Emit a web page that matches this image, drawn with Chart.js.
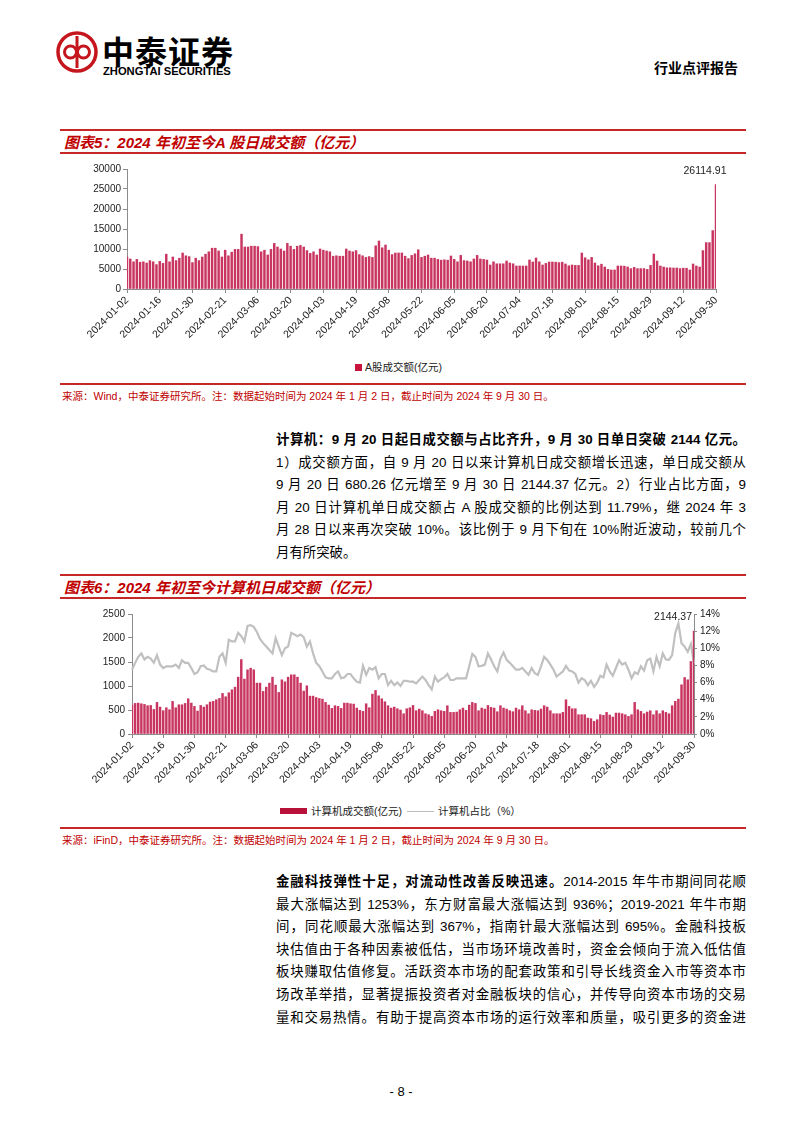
<!DOCTYPE html>
<html>
<head>
<meta charset="utf-8">
<script src="https://cdn.jsdelivr.net/npm/chart.js@4.4.1/dist/chart.umd.min.js"></script>
<style>
body{margin:0;background:#fff;width:802px;height:1133px;position:relative;overflow:hidden;font-family:"Liberation Sans","Noto Sans CJK SC",sans-serif;color:#000}
.abs{position:absolute}
.rule{position:absolute;left:60px;width:686px;background:#c62828}
.title{position:absolute;left:64px;font-style:italic;font-weight:bold;font-size:15px;color:#c00000;font-family:"Liberation Sans","Noto Sans CJK SC";white-space:nowrap}
.src{position:absolute;left:62px;font-size:10.5px;color:#c00000;white-space:nowrap;font-family:"Liberation Sans","Noto Sans CJK SC"}
.para{position:absolute;left:276px;width:470px;font-size:13.4px;line-height:22.6px;font-family:"Liberation Sans","Noto Sans CJK SC"}
.para div{text-align:justify;text-align-last:justify}
.legend{position:absolute;font-size:10.5px;white-space:nowrap;font-family:"Liberation Sans","Noto Sans CJK SC";color:#222}
canvas{position:absolute}
</style>
</head>
<body>

<svg class="abs" style="left:55px;top:30px" width="46" height="46">
  <circle cx="22" cy="22" r="19" fill="none" stroke="#c4161c" stroke-width="3.5"/>
  <circle cx="15.5" cy="22" r="6" fill="none" stroke="#c4161c" stroke-width="3"/>
  <circle cx="28.5" cy="22" r="6" fill="none" stroke="#c4161c" stroke-width="3"/>
  <line x1="22" y1="6" x2="22" y2="38" stroke="#c4161c" stroke-width="3"/>
</svg>
<div class="abs" style="left:102px;top:27px;font-size:32px;font-weight:bold;font-family:'Noto Sans CJK SC';letter-spacing:1px">中泰证券</div>
<div class="abs" style="left:103px;top:65px;font-size:11.2px;font-weight:bold;font-family:'Liberation Sans'">ZHONGTAI SECURITIES</div>
<div class="abs" style="left:654px;top:57px;font-size:14px;font-weight:bold;font-family:'Noto Sans CJK SC'">行业点评报告</div>

<div class="rule" style="top:129px;height:2px"></div>
<div class="title" style="top:131px">图表5：2024 年初至今A 股日成交额（亿元）</div>
<div class="rule" style="top:152px;height:2px"></div>

<canvas id="c1" width="690" height="192" style="left:60px;top:158px"></canvas>

<div class="legend" style="left:355px;top:359px"><span style="display:inline-block;width:7px;height:7px;background:#c8143c;margin-right:3px"></span>A股成交额(亿元)</div>
<div class="rule" style="top:383px;height:1.5px"></div>
<div class="src" style="top:388px">来源：Wind，中泰证券研究所。注：数据起始时间为 2024 年 1 月 2 日，截止时间为 2024 年 9 月 30 日。</div>

<div class="para" style="top:429px">
<div><b>计算机：9 月 20 日起日成交额与占比齐升，9 月 30 日单日突破 2144 亿元。</b></div>
<div>1）成交额方面，自 9 月 20 日以来计算机日成交额增长迅速，单日成交额从</div>
<div>9 月 20 日 680.26 亿元增至 9 月 30 日 2144.37 亿元。2）行业占比方面，9</div>
<div>月 20 日计算机单日成交额占 A 股成交额的比例达到 11.79%，继 2024 年 3</div>
<div>月 28 日以来再次突破 10%。该比例于 9 月下旬在 10%附近波动，较前几个</div>
<div style="text-align-last:left">月有所突破。</div>
</div>

<div class="rule" style="top:574px;height:2px"></div>
<div class="title" style="top:576px">图表6：2024 年初至今计算机日成交额（亿元）</div>
<div class="rule" style="top:597px;height:2px"></div>

<canvas id="c2" width="690" height="197" style="left:60px;top:603px"></canvas>

<div class="legend" style="left:280px;top:803px">
  <span style="display:inline-block;width:27px;height:6px;background:#b8123a;vertical-align:1px;margin-right:4px"></span>计算机成交额(亿元)
  <span style="display:inline-block;width:27px;height:1.5px;background:#bdbdbd;vertical-align:3px;margin:0 4px 0 2px"></span>计算机占比（%）
</div>
<div class="rule" style="top:827px;height:1.5px"></div>
<div class="src" style="top:832px">来源：iFinD，中泰证券研究所。注：数据起始时间为 2024 年 1 月 2 日，截止时间为 2024 年 9 月 30 日。</div>

<div class="para" style="top:871px">
<div><b>金融科技弹性十足，对流动性改善反映迅速。</b>2014-2015 年牛市期间同花顺</div>
<div>最大涨幅达到 1253%，东方财富最大涨幅达到 936%；2019-2021 年牛市期</div>
<div>间，同花顺最大涨幅达到 367%，指南针最大涨幅达到 695%。金融科技板</div>
<div>块估值由于各种因素被低估，当市场环境改善时，资金会倾向于流入低估值</div>
<div>板块赚取估值修复。活跃资本市场的配套政策和引导长线资金入市等资本市</div>
<div>场改革举措，显著提振投资者对金融板块的信心，并传导向资本市场的交易</div>
<div>量和交易热情。有助于提高资本市场的运行效率和质量，吸引更多的资金进</div>
</div>

<div class="abs" style="left:0;width:802px;top:1084px;text-align:center;font-size:13px">- 8 -</div>

<script>
// closed weekdays of the Shanghai / Shenzhen exchanges, Jan - Sep 2024
const holidays = ["2024-01-01","2024-02-09","2024-02-12","2024-02-13","2024-02-14","2024-02-15","2024-02-16",
    "2024-04-04","2024-04-05","2024-05-01","2024-05-02","2024-05-03","2024-06-10","2024-09-16","2024-09-17"]

// A-share daily turnover, 100 million yuan
const aShareTurnover = [
    8000,7500,6800,7400,6700,6800,6500,7100,6800,6100,
    6900,6400,8700,6800,8000,7100,7700,9000,8300,8100,
    6600,7700,7100,8000,8700,9300,10200,10200,9500,8000,
    9700,8300,9200,9900,9900,13700,10500,10500,10700,10700,
    10600,9300,9700,8500,9900,11400,10500,10000,9500,11400,
    10700,9900,10700,10900,10500,9600,8900,9300,8500,10000,
    9700,9500,9300,8200,8300,8200,8200,10000,9500,9300,
    9600,8600,8300,7900,8100,7900,10800,12000,10300,11000,
    9700,8600,9000,9000,9000,8200,7600,8400,8800,9800,
    7900,8200,8500,7700,7700,7400,7200,7300,7200,8250,
    7400,6800,8400,7100,7000,6800,7500,8400,7500,7400,
    7250,6000,6800,6300,6300,6300,7000,6500,6300,5750,
    5750,5750,5750,7250,6750,7750,6800,6000,6400,6750,
    6750,6700,6600,6700,6250,5800,6000,5900,5900,9000,
    7800,7300,7900,6500,5800,6200,5500,4900,4750,4750,
    5750,5750,5700,5500,5100,5400,5100,5100,5100,4900,
    5900,8750,7000,5750,5500,5300,5300,5250,5250,5100,
    5200,5200,4750,6250,5750,5500,9600,11600,11600,14600,
    26114.91
]

// computer sector daily turnover, 100 million yuan
const computerTurnover = [
    602,637,644,630,616,589,595,512,658,561,
    485,547,505,679,547,609,609,637,734,644,
    575,478,595,561,609,665,679,713,741,845,
    776,859,921,976,1184,1551,1143,1337,1371,1337,
    1060,1060,886,976,1060,1184,1018,866,1129,1087,
    1184,1233,1233,1184,1060,893,1004,789,789,760,
    740,727,658,602,533,589,575,533,644,644,
    630,623,540,492,471,630,547,831,907,796,
    734,672,589,540,561,526,499,422,526,547,
    595,485,519,485,422,402,367,471,505,485,
    471,589,450,450,457,505,540,492,602,658,
    637,485,540,519,595,554,540,464,589,540,
    519,485,464,540,505,589,485,422,505,492,
    485,519,589,561,485,422,422,422,450,713,
    575,526,526,402,402,402,332,319,263,298,
    402,388,450,395,353,436,436,422,402,367,
    402,658,505,471,422,457,485,402,485,422,
    485,450,422,589,680.26,727,1025,1177,1129,1510,
    2144.37
]

// computer share of A-share turnover, %
const computerShare = [
    7.5,8.3,9.0,9.4,8.7,9.0,8.8,8.3,9.2,8.1,
    7.7,7.9,7.9,7.9,8.1,7.7,8.6,8.3,8.3,7.7,
    7.0,7.2,7.9,8.0,7.6,7.5,7.3,7.3,9.0,9.4,
    8.3,11.0,10.8,10.8,11.8,11.4,10.8,12.6,12.7,12.5,
    11.9,11.1,10.6,10.2,9.8,9.4,11.2,10.2,9.2,10.0,
    10.2,11.8,11.6,11.4,11.6,11.3,10.2,10.8,9.4,8.3,
    7.9,7.3,6.6,6.5,6.5,7.0,7.3,6.5,6.6,7.0,
    7.0,6.5,6.1,6.0,7.95,6.9,7.7,7.5,7.8,6.5,
    7.0,7.0,5.7,6.2,5.7,6.0,5.6,6.2,6.2,6.1,
    6.1,5.9,6.3,6.7,6.3,5.7,5.2,6.7,6.1,6.4,
    6.6,7.0,6.3,6.3,6.5,6.5,6.5,6.5,7.9,9.35,
    9.0,7.9,7.95,8.1,9.4,8.7,7.9,7.3,8.8,9.5,
    8.65,8.3,7.9,7.5,7.5,7.7,7.3,6.9,7.7,7.1,
    6.9,7.9,9.0,8.65,8.1,7.5,6.7,7.0,7.3,7.95,
    7.4,7.3,7.0,6.0,6.5,6.3,5.7,6.2,5.5,6.0,
    6.8,6.6,8.1,7.3,6.8,7.7,8.6,8.1,8.3,7.5,
    6.5,7.2,7.0,7.9,7.4,8.6,8.8,7.3,9.0,7.9,
    9.4,8.7,8.65,9.2,11.79,12.9,10.6,10.2,9.6,10.5,
    8.2
]

const tradeDays = []
for (let d = new Date(Date.UTC(2024, 0, 2)); d <= new Date(Date.UTC(2024, 8, 30)); d.setUTCDate(d.getUTCDate() + 1)) {
    const s = d.toISOString().slice(0, 10)
    if (d.getUTCDay() % 6 !== 0 && !holidays.includes(s)) tradeDays.push(s)
}

const axisColor = "#8c8c8c"
const tickFont = {family: "Liberation Sans", size: 10}
const barRed = "#c83560"

function valueTag(text, dx, dy, align) {
    return {
        id: "valueTag",
        afterDatasetsDraw(chart) {
            const bar = chart.getDatasetMeta(0).data.at(-1)
            const ctx = chart.ctx
            ctx.save()
            ctx.font = "10.5px 'Liberation Sans'"
            ctx.fillStyle = "#222"
            ctx.textAlign = align
            ctx.textBaseline = "middle"
            ctx.fillText(text, bar.x + dx, bar.y + dy)
            ctx.restore()
        }
    }
}

function xAxis(height) {
    return {
        offset: false,
        grid: {offset: false, drawOnChartArea: false, tickLength: 4, color: axisColor},
        border: {color: axisColor},
        ticks: {autoSkip: false, maxRotation: 45, minRotation: 45, padding: 1, font: {family: "Liberation Sans", size: 10.5}, color: "#222",
            callback: (v, i) => i % 10 === 0 ? tradeDays[i] : null},
        afterFit: s => { s.height = height }
    }
}

new Chart(document.getElementById("c1"), {
    type: "bar",
    data: {
        labels: tradeDays,
        datasets: [{label: "A股成交额(亿元)", data: aShareTurnover, backgroundColor: barRed, barThickness: 1.8}]
    },
    options: {
        responsive: false,
        animation: false,
        layout: {padding: {top: 11, right: 34, left: 0, bottom: 0}},
        plugins: {legend: {display: false}, tooltip: {enabled: false}},
        scales: {
            x: xAxis(61),
            y: {
                min: 0, max: 30000,
                ticks: {stepSize: 5000, padding: 2, font: tickFont, color: "#222", callback: v => String(v)},
                grid: {drawOnChartArea: false, tickLength: 4, color: axisColor},
                border: {color: axisColor},
                afterFit: s => { s.width = 67 }
            }
        }
    },
    plugins: [valueTag("26114.91", -11, -13, "center")]
})

new Chart(document.getElementById("c2"), {
    type: "bar",
    data: {
        labels: tradeDays,
        datasets: [
            {label: "计算机成交额(亿元)", data: computerTurnover, backgroundColor: barRed, barThickness: 1.8, order: 0, yAxisID: "y"},
            {type: "line", label: "计算机占比（%）", data: computerShare, borderColor: "#c0c0c0", borderWidth: 2.2,
                pointRadius: 0, tension: 0, order: 1, yAxisID: "y1"}
        ]
    },
    options: {
        responsive: false,
        animation: false,
        layout: {padding: {top: 11, right: 16, left: 0, bottom: 0}},
        plugins: {legend: {display: false}, tooltip: {enabled: false}},
        scales: {
            x: xAxis(66),
            y: {
                min: 0, max: 2500,
                ticks: {stepSize: 500, padding: 3, font: tickFont, color: "#222", callback: v => String(v)},
                grid: {drawOnChartArea: false, tickLength: 4, color: axisColor},
                border: {color: axisColor},
                afterFit: s => { s.width = 72 }
            },
            y1: {
                position: "right",
                min: 0, max: 14,
                ticks: {stepSize: 2, padding: 3, font: tickFont, color: "#222", callback: v => v + "%"},
                grid: {drawOnChartArea: false, tickLength: 3, color: axisColor},
                border: {color: axisColor},
                afterFit: s => { s.width = 40 }
            }
        }
    },
    plugins: [valueTag("2144.37", -2, -14, "right")]
})
</script>
</body>
</html>
